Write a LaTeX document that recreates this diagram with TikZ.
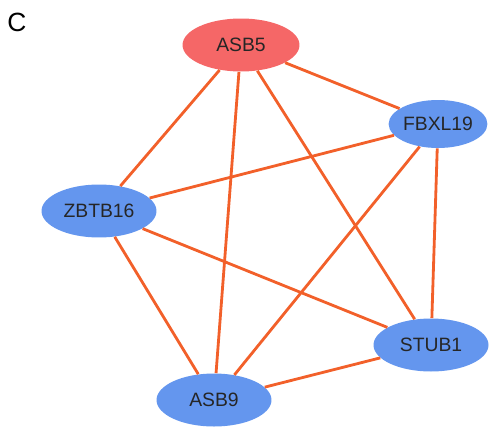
\documentclass[tikz,border=0pt]{standalone}
\usepackage{fontspec}
\setmainfont{Liberation Sans}
\usepackage{tikz}
\usetikzlibrary{shapes.geometric}
\definecolor{seedProtein}{HTML}{F56767}
\definecolor{partnerProtein}{HTML}{6496EE}
\definecolor{interaction}{HTML}{F2602A}

\begin{document}
\begin{tikzpicture}[
  x=0.02cm,
  y=-0.02cm,
  every protein/.style={
    ellipse,
    inner sep=0pt,
    font=\fontsize{11}{13}\selectfont,
    text=black!85,
  },
  seed/.style={
    every protein,
    fill=seedProtein,
    minimum width=2.34cm,
    minimum height=1.06cm,
  },
  partner/.style={
    every protein,
    fill=partnerProtein,
    minimum width=2.3cm,
    minimum height=1.06cm,
  },
  link/.style={
    draw=interaction,
    line width=1.6pt,
  },
]
\useasboundingbox (0,0) rectangle (502,432);
\node[font=\fontsize{15}{18}\selectfont,anchor=center] (panel) at (17,22) {C};
\node[seed] (asb5) at (241,45) {ASB5};
\node[partner,minimum width=1.96cm,minimum height=0.96cm] (fbxl19) at (438,124) {FBXL19};
\node[partner] (zbtb16) at (99,211) {ZBTB16};
\node[partner] (stub1) at (431,345) {STUB1};
\node[partner] (asb9) at (214,400) {ASB9};
\foreach \a/\b in {asb5/fbxl19,asb5/zbtb16,asb5/asb9,asb5/stub1,
                   fbxl19/zbtb16,fbxl19/asb9,fbxl19/stub1,
                   zbtb16/stub1,zbtb16/asb9,asb9/stub1}
  \draw[link] (\a) -- (\b);
\end{tikzpicture}
\end{document}
